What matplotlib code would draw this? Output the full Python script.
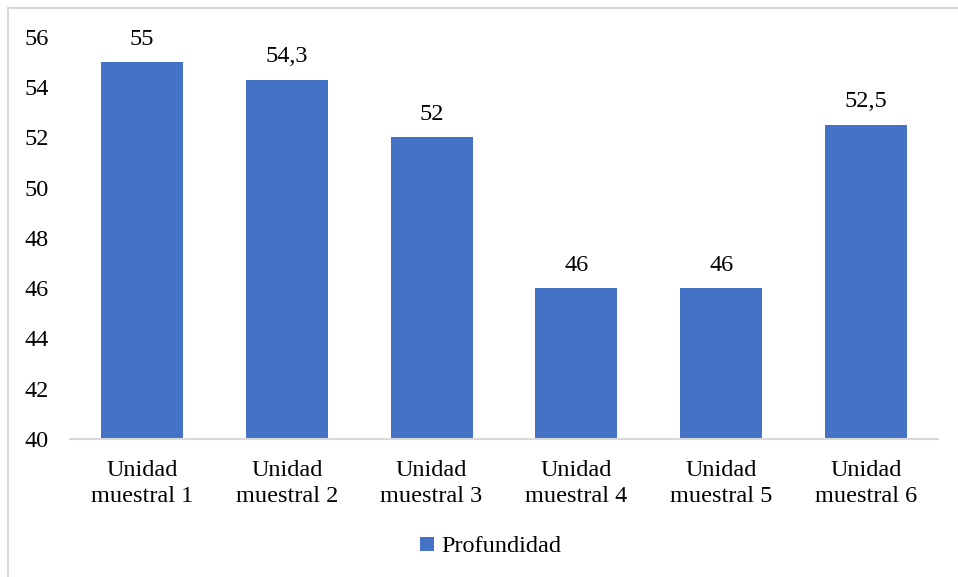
import matplotlib.pyplot as plt
from matplotlib.patches import Patch
from matplotlib.lines import Line2D

plt.rcParams['font.family'] = ['Liberation Serif', 'DejaVu Serif']

# data
categories = ['Unidad\nmuestral 1', 'Unidad\nmuestral 2', 'Unidad\nmuestral 3',
              'Unidad\nmuestral 4', 'Unidad\nmuestral 5', 'Unidad\nmuestral 6']
profundidad = [55, 54.3, 52, 46, 46, 52.5]
yticks = [40, 42, 44, 46, 48, 50, 52, 54, 56]

bar_color = '#4472C4'

fig = plt.figure(figsize=(9.58, 5.77), dpi=100)
ax = fig.add_axes([0.0727, 0.2392, 0.9068, 0.6967])

x = list(range(len(categories)))
bars = ax.bar(x, profundidad, width=0.566, color=bar_color, zorder=2)

for xi, v in zip(x, profundidad):
    txt = f'{v:g}'.replace('.', ',')
    ax.annotate(txt, (xi, v), xytext=(0, 9), textcoords='offset points',
                ha='center', va='bottom', fontsize=17.5)

ax.set_xlim(-0.5, len(categories) - 0.5)
ax.set_ylim(40, 56)
ax.set_yticks(yticks)
ax.set_xticks(x)
ax.set_xticklabels(categories, linespacing=1.3)
ax.tick_params(axis='both', length=0, labelsize=17.5)
ax.tick_params(axis='y', pad=15)
ax.tick_params(axis='x', pad=15)

for s in ['top', 'right', 'left']:
    ax.spines[s].set_visible(False)
ax.spines['bottom'].set_color('#d9d9d9')
ax.spines['bottom'].set_linewidth(1.5)

# legend
handle = Patch(facecolor=bar_color, edgecolor='none')
fig.legend([handle], ['Profundidad'], loc='center', bbox_to_anchor=(0.512, 0.052),
           frameon=False, fontsize=17.5, handlelength=0.55, handleheight=0.55,
           handletextpad=0.3)

# chart frame (only left and top edges visible in the crop)
fig.add_artist(Line2D([7.5 / 958, 7.5 / 958], [0, 1 - 7.5 / 577],
                      transform=fig.transFigure, color='#d9d9d9', lw=1.5))
fig.add_artist(Line2D([7.5 / 958, 1], [1 - 7.5 / 577, 1 - 7.5 / 577],
                      transform=fig.transFigure, color='#d9d9d9', lw=1.5))

fig.savefig('out.png', dpi=100)
